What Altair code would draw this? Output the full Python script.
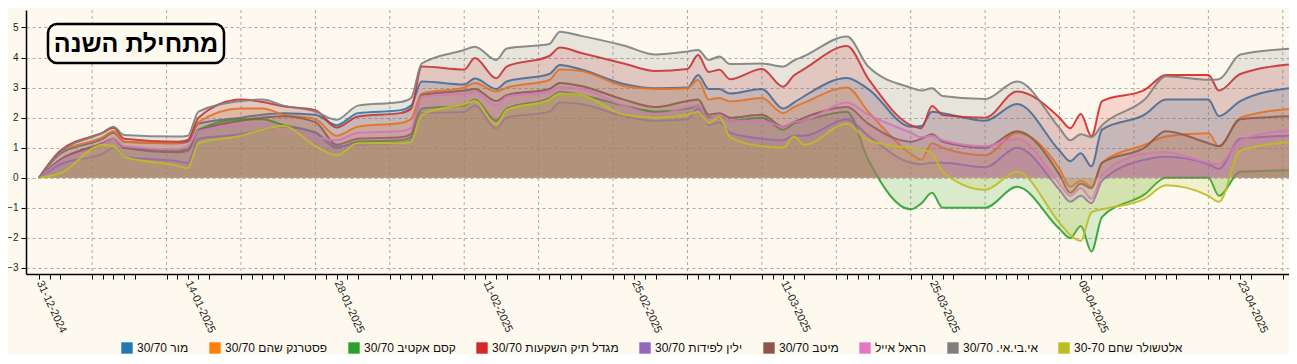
import altair as alt
import pandas as pd

DATES = [
    "2024-12-31", "2025-01-02", "2025-01-06", "2025-01-07", "2025-01-08", "2025-01-13",
    "2025-01-14", "2025-01-15", "2025-01-19", "2025-01-21", "2025-01-23", "2025-01-26",
    "2025-01-28", "2025-01-30", "2025-02-03", "2025-02-04", "2025-02-05", "2025-02-09",
    "2025-02-10", "2025-02-12", "2025-02-13", "2025-02-17", "2025-02-18", "2025-02-20",
    "2025-02-24", "2025-02-27", "2025-03-02", "2025-03-03", "2025-03-04", "2025-03-05",
    "2025-03-06", "2025-03-09", "2025-03-11", "2025-03-12", "2025-03-13", "2025-03-17",
    "2025-03-19", "2025-03-23", "2025-03-24", "2025-03-25", "2025-03-26", "2025-03-30",
    "2025-04-02", "2025-04-06", "2025-04-07", "2025-04-08", "2025-04-09", "2025-04-10",
    "2025-04-14", "2025-04-16", "2025-04-20", "2025-04-21", "2025-04-23", "2025-04-28",
]

SERIES = [
    "מור 30/70",
    "פסטרנק שהם 30/70",
    "קסם אקטיב 30/70",
    "מגדל תיק השקעות 30/70",
    "ילין לפידות 30/70",
    "מיטב 30/70",
    "הראל אייל",
    "אי.בי.אי. 30/70",
    "אלטשולר שחם 30-70",
]
COLORS = ["#1f77b4", "#ff7f0e", "#2ca02c", "#d62728", "#9467bd",
          "#8c564b", "#e377c2", "#7f7f7f", "#bcbd22"]

MOR = [0, 0.8, 1.3, 1.5, 1.2, 1.15, 1.2, 1.8, 2.0, 2.1, 2.15, 2.1, 1.75, 2.15, 2.25, 2.4,
       3.2, 3.1, 3.3, 2.95, 3.2, 3.45, 3.75, 3.6, 3.12, 2.98, 3.0, 3.42, 2.95, 2.95, 2.8,
       2.95, 2.3, 2.5, 2.72, 3.32, 2.95, 1.7, 1.72, 2.2, 2.15, 1.9, 2.45, 0.9, 0.55, 0.82,
       0.38, 1.6, 2.1, 2.6, 2.6, 2.05, 2.55, 3.0]
PASTERNAK = [0, 0.85, 1.35, 1.55, 1.2, 1.15, 1.25, 1.85, 2.3, 2.3, 2.1, 1.95, 1.4, 1.7, 1.82,
             1.95, 2.8, 3.0, 3.15, 2.87, 3.0, 3.25, 3.6, 3.55, 3.05, 2.95, 2.98, 3.26, 2.6,
             2.65, 2.54, 2.65, 2.15, 2.35, 2.5, 3.0, 2.2, 0.8, 0.6, 1.15, 1.0, 0.75, 1.5, 0.3,
             -0.3, -0.1, -0.3, 0.5, 1.1, 1.37, 1.48, 1.04, 2.0, 2.3]
KESEM = [0, 0.6, 1.1, 1.3, 1.0, 0.9, 0.95, 1.6, 1.95, 1.95, 1.75, 1.5, 1.0, 1.2, 1.25, 1.35,
         2.3, 2.4, 2.6, 1.9, 2.3, 2.65, 2.85, 2.75, 2.4, 2.2, 2.3, 2.4, 2.0, 2.05, 1.9, 2.0,
         1.6, 1.8, 1.9, 2.2, 0.6, -1.05, -0.85, -0.5, -1.0, -1.0, -0.3, -1.7, -2.0, -1.6,
         -2.45, -1.3, -0.55, 0.0, 0.0, -0.6, 0.2, 0.25]
MIGDAL = [0, 0.9, 1.5, 1.66, 1.3, 1.2, 1.25, 2.0, 2.6, 2.52, 2.38, 2.25, 1.67, 2.04, 2.15, 2.3,
          3.7, 3.6, 3.98, 3.31, 3.7, 4.05, 4.33, 4.15, 3.8, 3.55, 3.62, 4.08, 3.52, 3.59, 3.28,
          3.62, 3.03, 3.4, 3.62, 4.38, 3.3, 1.75, 1.65, 2.39, 2.09, 2.0, 2.87, 2.0, 1.65, 2.12,
          1.38, 2.55, 2.92, 3.42, 3.42, 2.9, 3.45, 3.78]
YALIN = [0, 0.45, 0.8, 1.0, 0.7, 0.55, 0.5, 1.3, 1.45, 1.6, 1.7, 1.5, 1.05, 1.1, 1.15, 1.25,
         2.15, 2.2, 2.4, 1.65, 2.0, 2.2, 2.5, 2.45, 2.05, 1.9, 1.95, 2.3, 1.75, 1.85, 1.5, 1.3,
         1.25, 1.4, 1.4, 1.95, 1.4, 0.5, 0.45, 0.5, 0.5, 0.35, 1.0, -0.4, -0.8, -0.6, -0.85,
         -0.1, 0.6, 0.7, 0.45, 0.3, 1.3, 1.4]
MEITAV = [0, 0.6, 1.15, 1.3, 1.0, 0.85, 0.9, 1.55, 1.9, 2.0, 2.05, 1.85, 1.1, 1.3, 1.35, 1.45,
          2.75, 2.9, 2.95, 2.55, 2.75, 2.95, 3.15, 3.05, 2.6, 2.35, 2.55, 2.6, 2.1, 2.15, 2.0,
          2.1, 1.7, 1.85, 2.0, 2.35, 1.8, 1.2, 1.3, 1.45, 1.2, 1.0, 1.55, 0.1, -0.5, -0.2,
          -0.35, 0.5, 1.0, 1.55, 1.15, 1.05, 1.95, 2.05]
HAREL = [0, 0.55, 1.1, 1.3, 1.05, 0.95, 1.05, 1.55, 1.75, 1.8, 1.55, 1.35, 1.25, 1.5, 1.55,
         1.65, 2.7, 2.8, 2.85, 2.4, 2.7, 2.85, 3.0, 2.95, 2.4, 2.1, 2.35, 2.4, 1.95, 2.1, 1.9,
         1.9, 1.7, 1.85, 1.9, 2.5, 2.1, 1.5, 1.35, 1.4, 1.25, 1.05, 1.3, -0.2, -0.6, -0.35,
         -0.7, 0.1, 0.8, 0.85, 0.5, 0.45, 1.25, 1.6]
IBI = [0, 0.85, 1.5, 1.7, 1.42, 1.37, 1.4, 2.2, 2.55, 2.6, 2.4, 2.2, 1.93, 2.4, 2.52, 2.65,
       3.8, 4.25, 4.36, 3.92, 4.3, 4.45, 4.86, 4.72, 4.4, 4.1, 4.2, 4.25, 3.92, 4.03, 3.78,
       3.8, 3.7, 3.9, 4.05, 4.7, 3.7, 3.0, 2.9, 2.98, 2.72, 2.62, 3.2, 1.65, 1.25, 1.45,
       1.35, 1.75, 2.6, 3.38, 3.26, 3.28, 4.1, 4.3]
ALTSHULER = [0, 0.15, 1.1, 1.05, 0.7, 0.4, 0.32, 1.15, 1.4, 1.6, 1.72, 1.05, 0.75, 1.15, 1.15,
             1.2, 2.1, 2.45, 2.55, 1.76, 2.26, 2.6, 2.8, 2.75, 2.1, 2.0, 2.09, 2.2, 1.82, 2.04,
             1.35, 1.05, 1.0, 1.37, 1.1, 1.8, 1.25, 0.99, 0.95, 0.82, 0.2, -0.4, 0.2, -1.5,
             -1.9, -2.1, -1.15, -1.05, -0.7, -0.25, -0.6, -0.8, 0.9, 1.2]

LABEL_DATES = ["31-12-2024", "14-01-2025", "28-01-2025", "11-02-2025", "25-02-2025",
               "11-03-2025", "25-03-2025", "08-04-2025", "23-04-2025"]
HOLIDAYS = ["2025-04-13"]
TITLE = "מתחילת השנה"
BG = "#fdf9ef"

series_values = [MOR, PASTERNAK, KESEM, MIGDAL, YALIN, MEITAV, HAREL, IBI, ALTSHULER]
rows = []
for name, vals in zip(SERIES, series_values):
    assert len(vals) == len(DATES), name
    for d, v in zip(DATES, vals):
        rows.append({"date": d + "T00:00:00", "series": name, "value": v})
df = pd.DataFrame(rows)

trade_days = pd.bdate_range("2024-12-31", "2025-04-28", freq="C",
                            weekmask="Sun Mon Tue Wed Thu", holidays=HOLIDAYS)
tick_vals = [alt.DateTime(year=d.year, month=d.month, date=d.day) for d in trade_days]
sundays = pd.date_range("2025-01-05", "2025-04-27", freq="7D")
grid_df = pd.DataFrame({"date": [d.strftime("%Y-%m-%dT00:00:00") for d in sundays]})

label_list = "[" + ",".join("'%s'" % s for s in LABEL_DATES) + "]"

x_scale = alt.Scale(domain=[alt.DateTime(year=2024, month=12, date=29, hours=18, minutes=39),
                            alt.DateTime(year=2025, month=4, date=27, hours=14)], nice=False)
y_scale = alt.Scale(domain=[-3.2, 5.58], nice=False, zero=False)
color_scale = alt.Scale(domain=SERIES, range=COLORS)

x_axis = alt.Axis(values=tick_vals, format="%d-%m-%Y",
                  labelExpr="indexof(%s, datum.label) >= 0 ? datum.label : ''" % label_list,
                  labelAngle=65, labelAlign="left", labelBaseline="middle",
                  labelOverlap=False, labelBound=False, labelFlush=False, grid=False,
                  tickSize=5, tickColor="black", domainColor="black", domainWidth=1.5,
                  tickWidth=1, labelFontSize=11, labelColor="#222", labelPadding=2,
                  labelFont="Liberation Sans", title=None)
y_axis = alt.Axis(values=list(range(-3, 6)), grid=True, gridDash=[3, 3], gridColor="#aaa",
                  gridWidth=1, tickSize=5, tickColor="black", domainColor="black",
                  domainWidth=1.5, labelFontSize=10, labelColor="#222", labelPadding=3,
                  labelFont="Liberation Sans", title=None)
legend = alt.Legend(orient="none", legendX=95, legendY=332, direction="horizontal",
                    columns=9, symbolType="square", symbolSize=130, symbolOpacity=1,
                    symbolStrokeWidth=0, labelFontSize=12, labelFont="Liberation Sans",
                    labelColor="#111", labelOffset=4, columnPadding=20, title=None,
                    padding=0)

X = alt.X("date:T", scale=x_scale, axis=x_axis)
Y = alt.Y("value:Q", scale=y_scale, axis=y_axis, stack=None)

grid_rules = alt.Chart(grid_df).mark_rule(strokeDash=[3, 3], color="#aaa", strokeWidth=1).encode(
    x=alt.X("date:T", scale=x_scale, axis=x_axis))

series_layers = []
for name in SERIES:
    sub = alt.Chart(df).transform_filter(alt.datum.series == name)
    series_layers.append(
        sub.mark_area(interpolate="monotone", fillOpacity=0.17, clip=True).encode(
            x=X, y=Y, y2=alt.datum(0),
            color=alt.Color("series:N", scale=color_scale, legend=legend)))
    series_layers.append(
        sub.mark_line(interpolate="monotone", strokeWidth=2, opacity=0.9, clip=True).encode(
            x=X, y=Y,
            color=alt.Color("series:N", scale=color_scale, legend=None)))

title_df = pd.DataFrame({"t": [TITLE]})
title_box = alt.Chart(title_df).mark_rect(fill=BG, stroke="black", strokeWidth=2.5,
                                          cornerRadius=9).encode(
    x=alt.value(22), x2=alt.value(198), y=alt.value(14), y2=alt.value(53))
title_text = alt.Chart(title_df).mark_text(fontSize=25, fontWeight="bold",
                                           font="Liberation Sans", align="center",
                                           baseline="middle", color="black").encode(
    x=alt.value(110), y=alt.value(34), text="t:N")

chart = alt.layer(grid_rules, *series_layers, title_box, title_text).properties(
    width=1263, height=264,
    autosize=alt.AutoSizeParams(type="none"),
    padding={"left": 18, "top": 2, "right": 0, "bottom": 80},
    background=BG,
).configure_view(stroke=None)

chart.save("out.html", embed_options={"renderer": "svg", "actions": False})
